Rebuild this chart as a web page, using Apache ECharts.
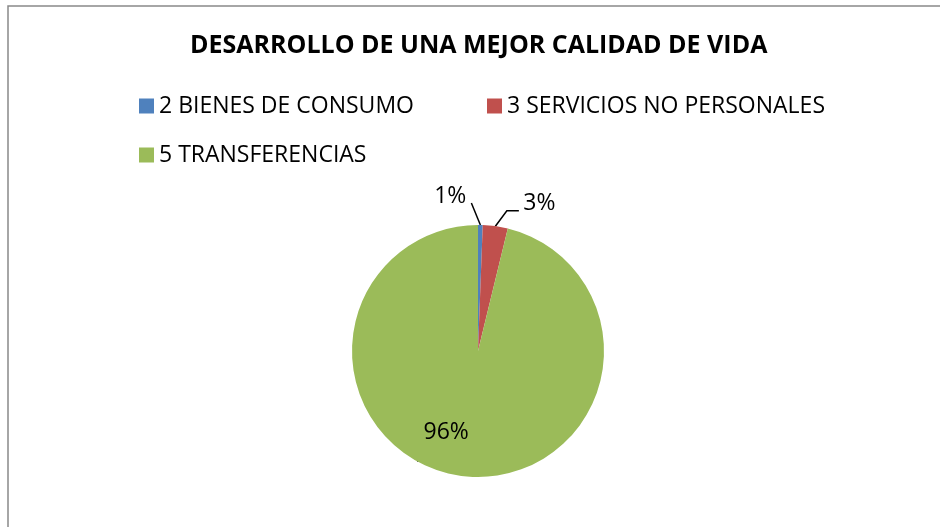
<!DOCTYPE html>
<html><head><meta charset="utf-8">
<script src="https://cdn.jsdelivr.net/npm/echarts@6/dist/echarts.min.js"></script>
<style>html,body{margin:0;padding:0;background:#fff}#c{width:940px;height:527px}</style>
</head><body><div id="c"></div>
<script>
var title = 'DESARROLLO DE UNA MEJOR CALIDAD DE VIDA';
var categories = ['2 BIENES DE CONSUMO', '3 SERVICIOS NO PERSONALES', '5 TRANSFERENCIAS'];
var values = [0.6, 3.2, 96.2];
var colors = ['#4F81BD', '#C0504D', '#9BBB59'];

var FONT = 'Open Sans';
var chart = echarts.init(document.getElementById('c'), null, {renderer: 'canvas'});
var data = categories.map(function (c, i) {
  var d = {name: c, value: values[i], itemStyle: {color: colors[i]}};
  if (i === 2) d.label = {position: 'inside'};
  return d;
});
function legendFor(i, left, top) {
  return {
    data: [categories[i]], left: left, top: top, orient: 'horizontal',
    icon: 'rect', itemWidth: 15, itemHeight: 15, itemGap: 6,
    textStyle: {fontFamily: FONT, fontSize: 23, lineHeight: 26, color: '#000'},
    selectedMode: false
  };
}
chart.setOption({
  animation: false,
  title: {text: title, left: 185, top: 28,
    textStyle: {fontFamily: FONT, fontWeight: 'bold', fontSize: 25, color: '#000'}},
  legend: [legendFor(0, 134, 88), legendFor(1, 482, 88), legendFor(2, 134, 137)],
  graphic: [{type: 'rect', shape: {x: 8, y: 6, width: 1000, height: 1000},
    style: {fill: 'none', stroke: '#898989', lineWidth: 1.5}, silent: true}],
  series: [{
    type: 'pie', center: [478, 351], radius: 126, startAngle: 90, clockwise: true,
    avoidLabelOverlap: false,
    data: data,
    label: {show: true, position: 'outside', fontFamily: FONT, fontSize: 23, color: '#000',
      formatter: function (p) { return Math.round(p.percent) + '%'; }},
    labelLine: {show: true, length: 16, length2: 12, lineStyle: {color: '#000', width: 1.5}},
    labelLayout: function (p) {
      var r = p.labelRect;
      if (p.dataIndex === 2) {
        return {x: r.x + r.width / 2 - 24, y: r.y + r.height / 2 + 16, align: 'center', verticalAlign: 'middle'};
      }
      var s = p.labelLinePoints[0];
      if (p.dataIndex === 0) {
        return {x: s[0] - 14, y: s[1] - 29, align: 'right', verticalAlign: 'middle',
          labelLinePoints: [[s[0], s[1]], [s[0] - 9, s[1] - 22], [s[0] - 9, s[1] - 22]]};
      }
      return {x: s[0] + 28, y: s[1] - 23, align: 'left', verticalAlign: 'middle',
        labelLinePoints: [[s[0], s[1]], [s[0] + 11.5, s[1] - 15.5], [s[0] + 23.5, s[1] - 15.5]]};
    },
    itemStyle: {borderWidth: 0}
  }]
});
</script></body></html>
